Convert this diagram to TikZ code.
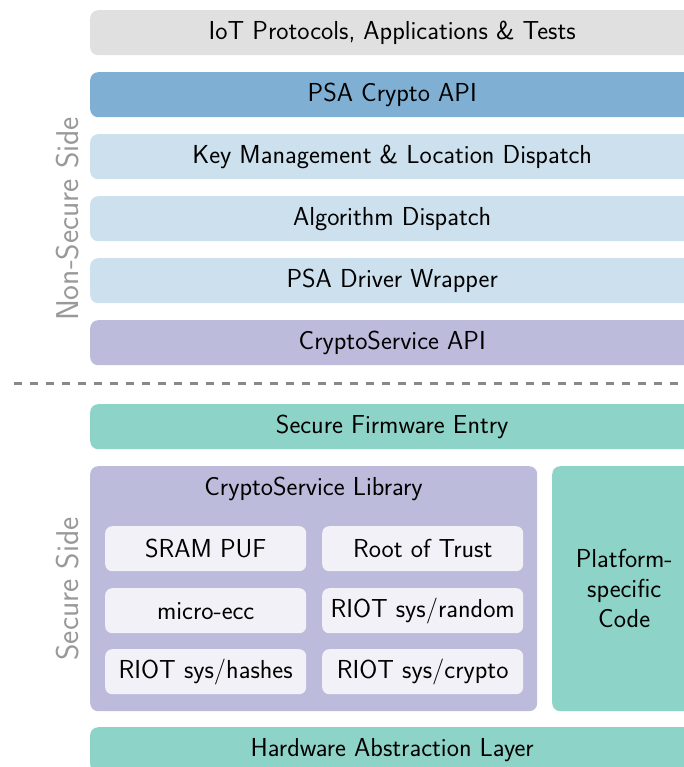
\documentclass[tikz,border=0pt]{standalone}
\usepackage{fontspec}
\definecolor{apigray}{HTML}{E0E0E0}
\definecolor{psablue}{HTML}{7FB0D3}
\definecolor{dispatchblue}{HTML}{CCE0EE}
\definecolor{servicepurple}{HTML}{BDBBDB}
\definecolor{secureteal}{HTML}{8ED3C7}
\definecolor{modulefill}{HTML}{F2F1F7}
\definecolor{sidegray}{HTML}{999999}
\definecolor{dashgray}{HTML}{888888}
\tikzset{
  layerbox/.style={rectangle, rounded corners=8pt, anchor=north west,
    minimum width=604pt, minimum height=45pt, inner sep=0pt, text=black,
    font=\sffamily\fontsize{26}{30}\selectfont},
  modulebox/.style={rectangle, rounded corners=7pt, anchor=north west,
    fill=modulefill, minimum width=201pt, minimum height=45pt, inner sep=0pt,
    font=\sffamily\fontsize{26}{30}\selectfont},
  sidelabel/.style={rotate=90, text=sidegray, inner sep=0pt,
    font=\sffamily\fontsize{31.5}{36}\selectfont},
  boundary/.style={line width=3.3pt, dashgray, dash pattern=on 8pt off 8pt},
}
\begin{document}
\begin{tikzpicture}[x=1pt, y=-1pt]
  \useasboundingbox (0,0) rectangle (684,767);
  \clip (0,0) rectangle (684,767);

  % non-secure stack
  \node[layerbox, fill=apigray]       (iot)    at (90,10)  {IoT Protocols, Applications \& Tests};
  \node[layerbox, fill=psablue]       (psa)    at (90,72)  {PSA Crypto API};
  \node[layerbox, fill=dispatchblue]  (keymgmt) at (90,134) {Key Management \& Location Dispatch};
  \node[layerbox, fill=dispatchblue]  (algo)   at (90,196) {Algorithm Dispatch};
  \node[layerbox, fill=dispatchblue]  (wrap)   at (90,258) {PSA Driver Wrapper};
  \node[layerbox, fill=servicepurple] (csapi)  at (90,320) {CryptoService API};

  % boundary between the two sides
  \coordinate (bleft) at (14,383.5);
  \coordinate (bright) at (700,383.5);
  \draw[boundary] (bleft) -- (bright);

  % secure stack
  \node[layerbox, fill=secureteal] (sfe) at (90,404) {Secure Firmware Entry};
  \node[layerbox, fill=servicepurple, minimum width=447pt, minimum height=245pt] (cslib) at (90,466) {};
  \node[font=\sffamily\fontsize{26}{30}\selectfont, anchor=center] (cslibtitle) at (313.5,489) {CryptoService Library};
  \node[layerbox, fill=secureteal, minimum width=144pt, minimum height=245pt,
        align=center, font=\sffamily\fontsize{26}{30}\selectfont] (platform) at (552,466)
        {Platform-\\specific\\Code};
  \node[layerbox, fill=secureteal] (hal) at (90,727) {Hardware Abstraction Layer};

  % modules inside the library
  \node[modulebox] (puf)    at (105,526) {SRAM PUF};
  \node[modulebox] (rot)    at (322,526) {Root of Trust};
  \node[modulebox] (uecc)   at (105,588) {micro-ecc};
  \node[modulebox] (random) at (322,588) {RIOT sys/random};
  \node[modulebox] (hashes) at (105,649) {RIOT sys/hashes};
  \node[modulebox] (crypto) at (322,649) {RIOT sys/crypto};

  % side labels
  \node[sidelabel] (nonsecure) at (68,219) {Non-Secure Side};
  \node[sidelabel] (secure)    at (68,589) {Secure Side};
\end{tikzpicture}
\end{document}
